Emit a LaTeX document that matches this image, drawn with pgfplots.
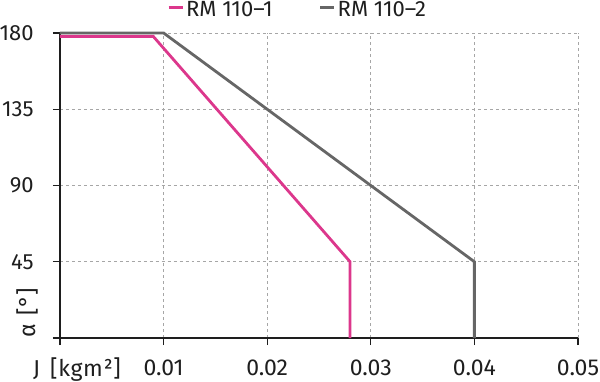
\documentclass[border=0pt]{standalone}
\usepackage{fontspec}
\setmainfont{Fira Sans}
\usepackage{pgfplots}
\pgfplotsset{compat=1.18}
\definecolor{pinkc}{RGB}{220,55,140}
\definecolor{greyc}{RGB}{102,102,102}
\definecolor{txt}{RGB}{30,30,30}
\newcommand{\tl}[1]{\mbox{\fontsize{23bp}{26bp}\selectfont #1}}
\newcommand{\tly}[1]{\mbox{\fontsize{22bp}{25bp}\selectfont #1}}
\begin{document}
\fontsize{23bp}{26bp}\selectfont
\begin{tikzpicture}
\begin{axis}[
  scale only axis,
  width=518bp, height=305bp,
  xmin=0, xmax=0.05, ymin=0, ymax=180,
  axis lines=left,
  axis line style={line width=1.3bp, txt, -},
  scaled x ticks=false,
  xtick={0,0.01,0.02,0.03,0.04,0.05},
  xticklabels={,\tl{0.01},\tl{0.02},\tl{0.03},\tl{0.04},\tl{0.05}},
  ytick={0,45,90,135,180},
  yticklabels={,\tly{45},\tly{90},\tly{135},\tly{180}},
  tick style={line width=1.3bp, txt},
  tick align=outside,
  major tick length=7bp,
  grid=major,
  grid style={dashed, gray!70, line width=0.6bp},
  ticklabel style={text=txt},
  xticklabel style={yshift=-7bp},
  yticklabel style={xshift=-11.5bp},
  clip=false,
  legend columns=2,
  legend style={at={(rel axis cs:0.4585,1.03)}, anchor=south, draw=none, fill=none,
    font=\fontsize{22bp}{25bp}\selectfont, text=txt,
    /tikz/every even column/.append style={column sep=44bp}},
  legend image code/.code={\draw[#1, line width=3bp] (0,3bp) -- (14bp,3bp);},
]
\addplot[pinkc, line width=2.8bp] coordinates {(0,178) (0.009,178) (0.028,45) (0.028,0)};
\addlegendentry{RM 110–1}
\addplot[greyc, line width=2.8bp] coordinates {(0,180) (0.01,180) (0.04,45) (0.04,0)};
\addlegendentry{RM 110–2}
\node[anchor=north west, text=txt, inner sep=0pt] at ([xshift=-27bp, yshift=-20bp]axis cs:0,0) {J\hspace{10bp}{\addfontfeatures{LetterSpace=3}[kgm²]}};
\node[rotate=90, anchor=base west, text=txt, inner sep=0pt] at ([xshift=-24bp]axis cs:0,0) {α\hspace{3bp} [°]};
\end{axis}
\pgfresetboundingbox
\path (current axis.south west) ++(-60bp,-44bp) rectangle ++(600bp,382bp);
\end{tikzpicture}
\end{document}
